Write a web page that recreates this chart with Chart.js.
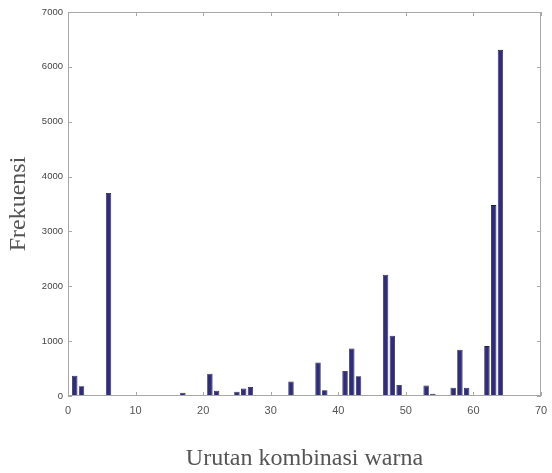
<!DOCTYPE html>
<html>
<head>
<meta charset="utf-8">
<script src="https://cdn.jsdelivr.net/npm/chart.js@4"></script>
<style>
  html, body { margin: 0; padding: 0; background: #fff; }
  #wrap { width: 552px; height: 473px; }
</style>
</head>
<body>
<div id="wrap"><canvas id="freqChart" width="552" height="473"></canvas></div>
<script>
// colour combination index (1..64) and its frequency
const categories = [1,2,3,4,5,6,7,8,9,10,11,12,13,14,15,16,17,18,19,20,21,22,23,24,25,26,27,28,29,30,31,32,
  33,34,35,36,37,38,39,40,41,42,43,44,45,46,47,48,49,50,51,52,53,54,55,56,57,58,59,60,61,62,63,64];
const frequencies = [370,180,0,0,15,3700,20,0,0,0,0,0,0,0,0,0,60,0,0,0,405,95,10,0,78,135,165,0,0,0,0,0,
  265,0,0,0,610,105,0,0,455,865,360,0,0,18,2210,1100,200,0,0,0,190,40,0,0,150,845,150,0,0,910,3480,6310];
const xTicks = [0,10,20,30,40,50,60,70];
const yTicks = [0,1000,2000,3000,4000,5000,6000,7000];

// MATLAB style box with inward ticks on all four sides
const boxPlugin = {
  id: 'boxPlugin',
  afterDraw(chart) {
    const {ctx, chartArea: a, scales} = chart;
    ctx.save();
    ctx.strokeStyle = '#a8a8a8';
    ctx.lineWidth = 1;
    ctx.strokeRect(a.left + 0.5, a.top + 0.5, a.right - a.left - 1, a.bottom - a.top - 1);
    ctx.beginPath();
    const len = 4;
    xTicks.forEach(v => {
      const x = Math.round(scales.x.getPixelForValue(v)) + 0.5;
      ctx.moveTo(x, a.bottom); ctx.lineTo(x, a.bottom - len);
      ctx.moveTo(x, a.top); ctx.lineTo(x, a.top + len);
    });
    yTicks.forEach(v => {
      const y = Math.round(scales.y.getPixelForValue(v)) + 0.5;
      ctx.moveTo(a.left, y); ctx.lineTo(a.left + len, y);
      ctx.moveTo(a.right, y); ctx.lineTo(a.right - len, y);
    });
    ctx.stroke();
    ctx.restore();
  }
};

new Chart(document.getElementById('freqChart'), {
  type: 'bar',
  data: {
    datasets: [{
      label: 'Frekuensi',
      data: categories.map((c, i) => ({ x: c, y: frequencies[i] })),
      backgroundColor: '#302b7a',
      borderColor: '#1c1a4a',
      borderWidth: 0.8,
      borderSkipped: false,
      barPercentage: 0.8,
      categoryPercentage: 1
    }]
  },
  options: {
    responsive: false,
    animation: false,
    layout: { padding: { top: 12, right: 11, bottom: 0, left: 0 } },
    plugins: { legend: { display: false }, tooltip: { enabled: false } },
    scales: {
      x: {
        type: 'linear', min: 0, max: 70, offset: false,
        afterBuildTicks: s => { s.ticks = xTicks.map(v => ({ value: v })); },
        afterFit: s => { s.height = 77; s.paddingLeft = 0; s.paddingRight = 0; },
        grid: { display: false, drawTicks: false },
        border: { display: false },
        ticks: { padding: 8, color: '#555', font: { family: 'Liberation Sans', size: 11 },
          callback: v => String(v) },
        title: { display: true, text: 'Urutan kombinasi warna', color: '#555',
          font: { family: 'Liberation Serif', size: 24 }, padding: { top: 0, bottom: 0 } }
      },
      y: {
        min: 0, max: 7000,
        afterBuildTicks: s => { s.ticks = yTicks.map(v => ({ value: v })); },
        afterFit: s => { s.width = 68; },
        grid: { display: false, drawTicks: false },
        border: { display: false },
        ticks: { padding: 5, color: '#444', font: { family: 'Liberation Sans', size: 9.5 },
          callback: v => String(v) },
        title: { display: true, text: 'Frekuensi', color: '#555',
          font: { family: 'Liberation Serif', size: 24 }, padding: { top: 4, bottom: 0 } }
      }
    }
  },
  plugins: [boxPlugin]
});
</script>
</body>
</html>
